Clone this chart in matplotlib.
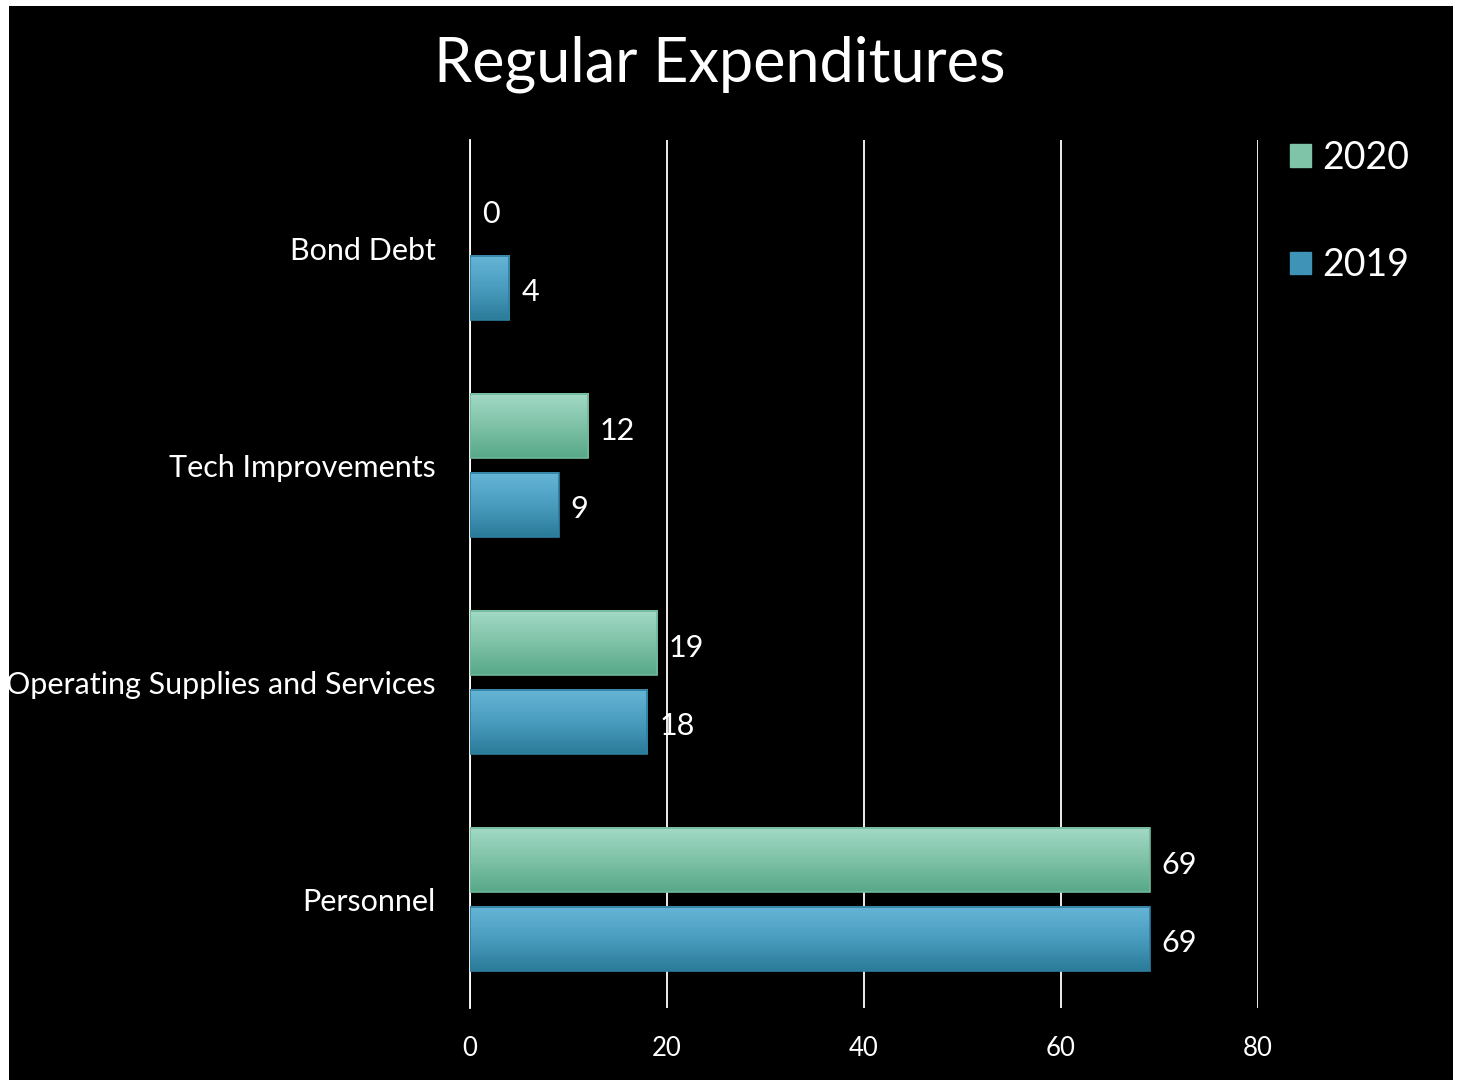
import numpy as np
import matplotlib
matplotlib.use("Agg")
import matplotlib.pyplot as plt
from matplotlib.colors import LinearSegmentedColormap
from matplotlib.patches import Patch

# Data (bottom to top)
categories = ["Personnel", "Operating Supplies and Services", "Tech Improvements", "Bond Debt"]
values_2020 = [69, 19, 12, 0]
values_2019 = [69, 18, 9, 4]
series_names = ["2020", "2019"]
x_ticks = [0, 20, 40, 60, 80]

FONT = ["Lato", "DejaVu Sans"]
plt.rcParams["font.family"] = FONT

cmap_2020 = LinearSegmentedColormap.from_list("c2020", ["#57a888", "#7fc2a8", "#a3dac6"])
cmap_2019 = LinearSegmentedColormap.from_list("c2019", ["#2a7a99", "#4a9dbf", "#66b5d7"])
solid = {"2020": "#7fc4a8", "2019": "#3f93b6"}

fig = plt.figure(figsize=(14.62, 10.82), dpi=100, facecolor="white")

# black background panel
bg = fig.add_axes([9 / 1462, 2 / 1082, 1444 / 1462, 1074 / 1082])
bg.set_facecolor("black")
bg.set_xticks([]); bg.set_yticks([])
for s in bg.spines.values():
    s.set_visible(False)

ax = fig.add_axes([470 / 1462, 1 - 1008 / 1082, 788 / 1462, 868 / 1082])
ax.set_facecolor("none")

y = np.arange(len(categories))
h = 0.295
off = 0.18

def grad_bars(vals, ypos, cmap, edge):
    grad = np.linspace(0, 1, 256).reshape(-1, 1)
    for v, yy in zip(vals, ypos):
        if v > 0:
            ax.imshow(grad, extent=[0, v, yy - h / 2, yy + h / 2], origin="lower",
                      aspect="auto", cmap=cmap, zorder=3)
            ax.add_patch(plt.Rectangle((0, yy - h / 2), v, h, fill=False,
                                       edgecolor=edge, lw=1.2, zorder=4))
        ax.text(v + 1.2, yy - 0.02, str(v), color="white", fontsize=22, va="center",
                ha="left", zorder=5)

grad_bars(values_2020, y + off, cmap_2020, "#6fb89b")
grad_bars(values_2019, y - off, cmap_2019, "#2f7f9f")

ax.set_xlim(0, 80)
ax.set_ylim(-0.5, 3.5)
ax.set_xticks(x_ticks)
ax.set_yticks(y)
ax.set_yticklabels(categories)
ax.grid(axis="x", color="white", lw=1.3, zorder=0)
ax.set_axisbelow(True)
ax.tick_params(axis="both", length=0, colors="white")
ax.tick_params(axis="x", labelsize=18.5, pad=20)
ax.tick_params(axis="y", labelsize=22, pad=24.5)
for s in ["top", "right", "bottom"]:
    ax.spines[s].set_visible(False)
ax.spines["left"].set_color("white")
ax.spines["left"].set_linewidth(1.3)

for lbl in ax.get_yticklabels():
    lbl.set_clip_on(True)
    lbl.set_clip_box(bg.bbox)

fig.text(0.492, 1 - 64 / 1082, "Regular Expenditures", color="white",
         fontsize=44, ha="center", va="center")

handles = [Patch(facecolor=solid[n], edgecolor=solid[n]) for n in series_names]
leg = fig.legend(handles, series_names, loc="upper left",
                 bbox_to_anchor=(1290 / 1462, 1 - 140 / 1082), frameon=False,
                 fontsize=27, labelcolor="white", handlelength=0.55, handleheight=0.55,
                 handletextpad=0.3, labelspacing=1.9, borderaxespad=0, borderpad=0)

fig.savefig("out.png", dpi=100, facecolor="white")
